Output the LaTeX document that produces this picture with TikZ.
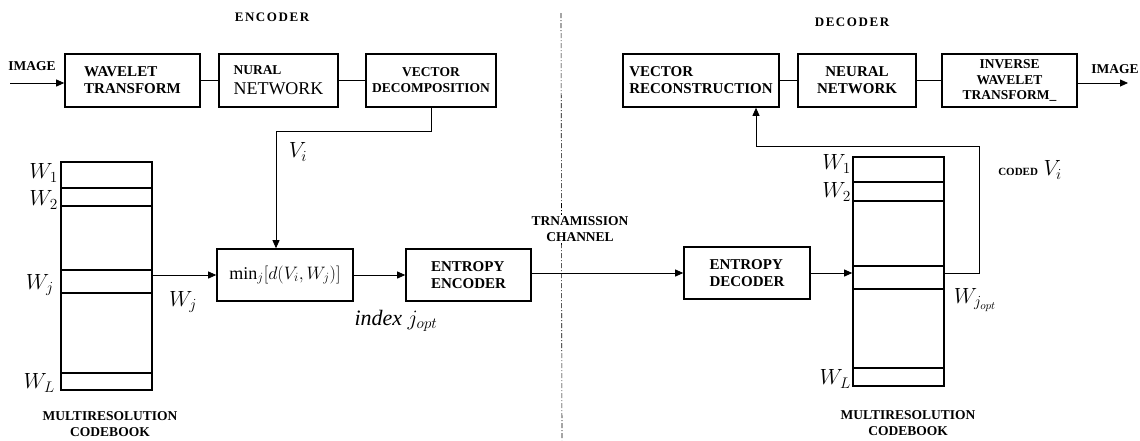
\RequirePackage{fix-cm}
\documentclass[tikz,border=0pt]{standalone}
\usepackage{fontspec}
\setmainfont{Liberation Serif}
\usetikzlibrary{arrows.meta}
\tikzset{
  blk/.style={draw, line width=1.6pt, minimum height=53pt, inner sep=2pt,
    font=\bfseries\fontsize{15}{17}\selectfont, align=left},
  book/.style={draw, line width=1.6pt, minimum width=91pt, inner sep=0pt},
  conn/.style={line width=0.8pt},
  arr/.style={conn, -{Triangle[length=8pt,width=7pt]}},
  capt/.style={font=\bfseries\fontsize{13.5}{16}\selectfont, align=center, inner sep=1pt},
  ttl/.style={font=\bfseries\fontsize{13}{15}\selectfont\addfontfeature{LetterSpace=12}},
  wlab/.style={anchor=east, inner sep=1pt, font=\fontsize{22}{22}\selectfont}
}
\begin{document}
\begin{tikzpicture}[x=1pt, y=-1pt]
\useasboundingbox (0,0) rectangle (1140,440);

\node[ttl] (enc) at (272,17) {ENCODER};
\node[ttl] (dec) at (852,22) {DECODER};

\node[blk, minimum width=135pt] (wt) at (132.5,80.5) {WAVELET\\TRANSFORM};
\node[blk, minimum width=119pt, font=\fontsize{18}{20}\selectfont] (nn) at (278.5,80.5)
  {{\bfseries\fontsize{13.5}{15}\selectfont NURAL}\\NETWORK};
\node[blk, minimum width=130pt, align=center, font=\bfseries\fontsize{13.5}{16}\selectfont] (vd) at (431,80.5)
  {VECTOR\\DECOMPOSITION};
\node[blk, minimum width=156pt] (vr) at (701,80.5) {VECTOR\\RECONSTRUCTION};
\node[blk, minimum width=118pt, align=center, font=\bfseries\fontsize{15}{17}\selectfont] (nn2) at (857,80.5)
  {NEURAL\\NETWORK};
\node[blk, minimum width=135pt, align=center, font=\bfseries\fontsize{13.5}{15.5}\selectfont] (iwt) at (1009.5,80.5)
  {INVERSE\\WAVELET\\TRANSFORM\_};

\node[blk, minimum width=136pt, minimum height=52pt, font=\fontsize{18}{18}\selectfont] (minb) at (285,275)
  {$\min_j[d(V_i,W_j)]$};
\node[blk, minimum width=125pt, minimum height=52pt] (ee) at (468.5,275) {ENTROPY\\ENCODER};
\node[blk, minimum width=126pt, minimum height=52pt] (ed) at (747,273) {ENTROPY\\DECODER};

\node[book, minimum height=228pt] (cbl) at (106.5,276) {};
\foreach \yy in {188,206,270,293,373}
  \draw[line width=1.6pt] (cbl.west |- 0,\yy) -- (cbl.east |- 0,\yy);
\node[book, minimum height=229pt] (cbr) at (898.5,271.5) {};
\foreach \yy in {182,201,266,289,368}
  \draw[line width=1.6pt] (cbr.west |- 0,\yy) -- (cbr.east |- 0,\yy);

\node[wlab] (w1l) at (59,173) {$W_1$};
\node[wlab] (w2l) at (59,200) {$W_2$};
\node[wlab] (wjl) at (55,285) {$W_j$};
\node[wlab] (wll) at (56,383) {$W_L$};
\node[wlab] (w1r) at (852,164) {$W_1$};
\node[wlab] (w2r) at (852,192) {$W_2$};
\node[wlab] (wlr) at (852,379) {$W_L$};

\node[capt] (cbcl) at (110,424) {MULTIRESOLUTION\\CODEBOOK};
\node[capt] (cbcr) at (908,423) {MULTIRESOLUTION\\CODEBOOK};

\coordinate (ctop) at (561,13);
\coordinate (cbot) at (562,440);
\draw[line width=0.6pt, dash pattern=on 5pt off 2pt on 1pt off 2pt] (ctop) -- (cbot);
\node[capt, fill=white] (tc) at (580,229) {TRNAMISSION\\CHANNEL};

\coordinate (imgin) at (10,83);
\draw[arr] (imgin) -- (imgin -| wt.west);
\node[capt] (imgl) at (32,66) {IMAGE};
\draw[line width=1.6pt] (wt) -- (nn);
\draw[line width=1.6pt] (nn) -- (vd);

\draw[conn] (vr) -- (nn2);
\draw[conn] (nn2) -- (iwt);
\coordinate (imgout) at (1128,83);
\draw[arr] (imgout -| iwt.east) -- (imgout);
\node[capt] (imgr) at (1115,69) {IMAGE};

\coordinate (vi) at (276,131);
\draw[arr] (vd.south) |- (vi) -- (vi |- minb.north);
\node[wlab, anchor=center] (vil) at (298,152) {$V_i$};
\draw[arr] (minb.west -| cbl.east) -- (minb.west);
\node[wlab, anchor=center] (wja) at (183,302) {$W_j$};
\draw[arr] (minb) -- (ee);
\node[wlab, anchor=center] (idx) at (396,321) {$\mathit{index}\ j_{opt}$};

\draw[arr] (ed.west -| ee.east) -- (ed.west);
\draw[arr] (ed) -- (ed -| cbr.west);

\coordinate (fb) at (979,146);
\coordinate (fbin) at (756,146);
\draw[arr] (ed.east -| cbr.east) -| (fb) -- (fbin) -- (fbin |- vr.south);
\node[wlab, anchor=center] (wopt) at (975,300) {$W_{j_{opt}}$};
\node[wlab, anchor=center] (coded) at (1030,170) {{\bfseries\fontsize{11}{11}\selectfont CODED} $V_i$};
\end{tikzpicture}
\end{document}
